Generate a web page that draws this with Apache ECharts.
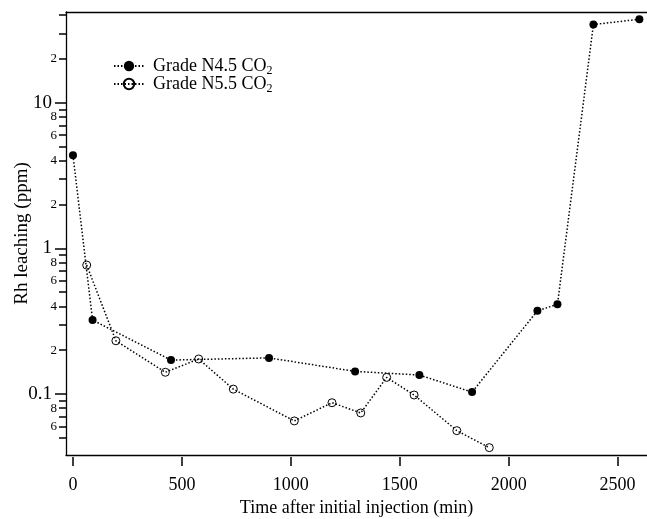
<!DOCTYPE html>
<html>
<head>
<meta charset="utf-8">
<script src="https://cdn.jsdelivr.net/npm/echarts@6/dist/echarts.min.js"></script>
<style>
  html, body { margin: 0; padding: 0; background: #fff; }
  #chart { width: 647px; height: 519px; }
</style>
</head>
<body>
<div id="chart"></div>
<script>
// Rh leaching vs time for two CO2 grades
const seriesNames = ['Grade N4.5 CO{sub|2}', 'Grade N5.5 CO{sub|2}'];

const timeN45 = [0, 90, 450, 900, 1295, 1590, 1832, 2132, 2224, 2389, 2600];
const rhN45   = [4.37, 0.322, 0.171, 0.177, 0.143, 0.135, 0.103, 0.373, 0.413, 34.5, 37.5];

const timeN55 = [63, 197, 424, 577, 736, 1016, 1189, 1321, 1440, 1566, 1762, 1911];
const rhN55   = [0.768, 0.232, 0.141, 0.174, 0.108, 0.0653, 0.0871, 0.0741, 0.130, 0.0984, 0.056, 0.0428];

const xTicks = [0, 500, 1000, 1500, 2000, 2500];
const yMajorTicks = [0.1, 1, 10];
const yMinorTicks = [0.05, 0.06, 0.07, 0.08, 0.09,
                     0.2, 0.3, 0.4, 0.5, 0.6, 0.7, 0.8, 0.9,
                     2, 3, 4, 5, 6, 7, 8, 9, 20, 30, 40];
const yMinorLabels = [0.06, 0.08, 0.2, 0.4, 0.6, 0.8, 2, 4, 6, 8, 20];

const X_MIN = -32, X_MAX = 2635;
const Y_MIN = 0.0381, Y_MAX = 42.06;
const FONT = '"Liberation Serif", "Times New Roman", serif';

function pairs(xs, ys) { return xs.map((x, i) => [x, ys[i]]); }

// minor labels show only the leading digit: 0.2 -> "2", 20 -> "2"
function minorLabel(v) {
  const exp = Math.floor(Math.log10(v) + 1e-9);
  return String(Math.round(v / Math.pow(10, exp)));
}

const chart = echarts.init(document.getElementById('chart'), null, { renderer: 'canvas' });

const lineStyle = { color: '#000', width: 1.5, type: [1.5, 2] };

chart.setOption({
  backgroundColor: '#fff',
  animation: false,
  textStyle: { fontFamily: FONT, color: '#000' },
  grid: { left: 66, right: 0, top: 12, bottom: 64, containLabel: false, outerBoundsMode: 'none' },
  legend: {
    orient: 'vertical',
    left: 113,
    top: 57,
    itemWidth: 30,
    itemHeight: 13,
    itemGap: -2,
    padding: 0,
    data: seriesNames,
    textStyle: {
      fontFamily: FONT, fontSize: 18, color: '#000',
      padding: [0, 0, 0, 4],
      rich: { sub: { fontFamily: FONT, fontSize: 12, padding: [10, 0, 0, 0] } }
    }
  },
  xAxis: [
    {
      type: 'value', min: X_MIN, max: X_MAX, position: 'bottom',
      axisLine: { show: true, onZero: false, lineStyle: { color: '#000', width: 1.3 } },
      axisTick: { show: false }, axisLabel: { show: false }, splitLine: { show: false }
    },
    {
      type: 'value', min: X_MIN, max: X_MAX, position: 'bottom', offset: 2,
      axisLine: { show: false, onZero: false },
      axisTick: { show: true, length: 9, customValues: xTicks, lineStyle: { color: '#000', width: 1.5 } },
      axisLabel: {
        customValues: xTicks, fontFamily: FONT, fontSize: 18, color: '#000', margin: 19,
        formatter: v => String(v)
      },
      splitLine: { show: false },
      name: 'Time after initial injection (min)',
      nameLocation: 'middle', nameGap: 42,
      nameTextStyle: { fontFamily: FONT, fontSize: 18, color: '#000' }
    },
    {
      type: 'value', min: X_MIN, max: X_MAX, position: 'top',
      axisLine: { show: true, onZero: false, lineStyle: { color: '#000', width: 1.3 } },
      axisTick: { show: false }, axisLabel: { show: false }, splitLine: { show: false }
    }
  ],
  yAxis: [
    {
      type: 'log', logBase: 10, min: Y_MIN, max: Y_MAX, position: 'left',
      axisLine: { show: true, onZero: false, lineStyle: { color: '#000', width: 1.3 } },
      axisTick: { show: true, length: 11, customValues: yMajorTicks, lineStyle: { color: '#000', width: 1.5 } },
      axisLabel: {
        customValues: yMajorTicks, margin: 14,
        fontFamily: FONT, fontSize: 19, color: '#000',
        formatter: v => (v < 1 ? String(+v.toPrecision(3)) : String(Math.round(v)))
      },
      splitLine: { show: false },
      name: 'Rh leaching (ppm)', nameLocation: 'middle', nameGap: 34, nameRotate: 90,
      nameMoveOverlap: false,
      nameTextStyle: { fontFamily: FONT, fontSize: 19, color: '#000' }
    },
    {
      type: 'log', logBase: 10, min: Y_MIN, max: Y_MAX, position: 'left',
      axisLine: { show: false, onZero: false },
      axisTick: { show: true, length: 7, customValues: yMinorTicks, lineStyle: { color: '#000', width: 1.5 } },
      axisLabel: {
        customValues: yMinorLabels, margin: 9,
        fontFamily: FONT, fontSize: 13, color: '#000',
        formatter: v => minorLabel(v)
      },
      splitLine: { show: false }
    }
  ],
  series: [
    {
      name: seriesNames[0], type: 'line', xAxisIndex: 0, yAxisIndex: 0,
      data: pairs(timeN45, rhN45),
      symbol: 'circle', symbolSize: 8,
      itemStyle: { color: '#000', borderColor: '#000', borderWidth: 0 },
      lineStyle: lineStyle
    },
    {
      name: seriesNames[1], type: 'line', xAxisIndex: 0, yAxisIndex: 0,
      data: pairs(timeN55, rhN55),
      symbol: 'circle', symbolSize: 8,
      itemStyle: { color: 'rgba(0,0,0,0)', borderColor: '#000', borderWidth: 1 },
      lineStyle: lineStyle
    }
  ]
});
</script>
</body>
</html>
